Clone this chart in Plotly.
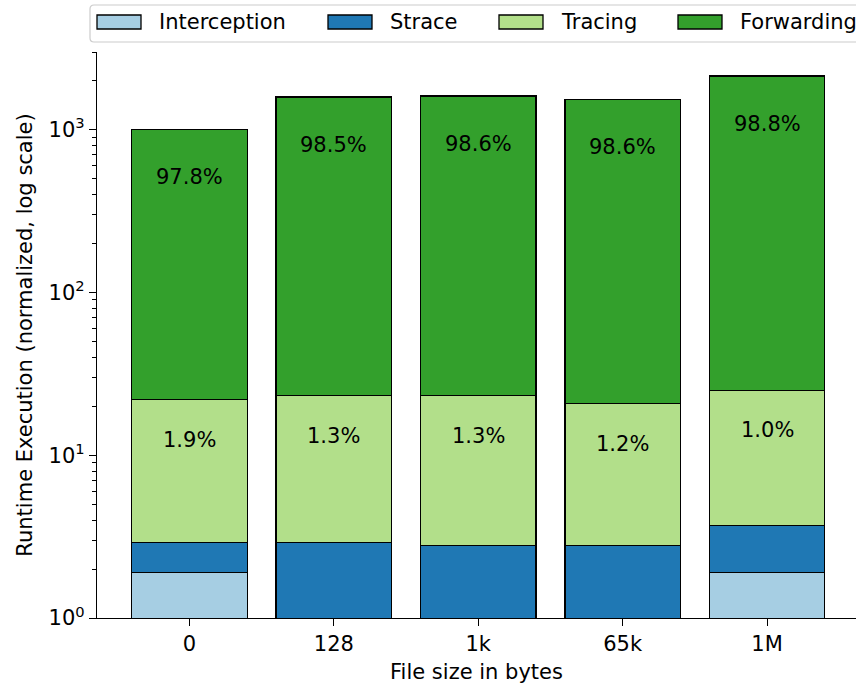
import math
import plotly.graph_objects as go

# file sizes on the x axis
sizes = ["0", "128", "1k", "65k", "1M"]

# runtime segments (normalized), stacked bottom -> top
interception = [1.9, 0.0, 0.0, 0.0, 1.9]
strace = [1.0, 2.9, 2.8, 2.8, 1.8]
tracing = [19.1, 20.3, 20.5, 17.9, 21.2]
forwarding = [985, 1565, 1584, 1519, 2109]

# percentage labels as printed on the bars
tracing_pct = ["1.9%", "1.3%", "1.3%", "1.2%", "1.0%"]
forwarding_pct = ["97.8%", "98.5%", "98.6%", "98.6%", "98.8%"]

series = [
    ("Interception", interception, "#a6cee3"),
    ("Strace", strace, "#1f78b4"),
    ("Tracing", tracing, "#b2df8a"),
    ("Forwarding", forwarding, "#33a02c"),
]

W, H = 856, 688
L, R, T, B = 97, 0, 52, 70
FONT = "DejaVu Sans"
FS = 21

fig = go.Figure()
for name, vals, col in series:
    fig.add_trace(go.Bar(
        x=list(range(len(sizes))), y=vals, name=name,
        marker=dict(color=col, line=dict(color="black", width=1.3)),
        showlegend=False,
    ))

# labels at the linear middle of each labelled segment
for i in range(len(sizes)):
    low = interception[i] + strace[i]
    y_tr = low + tracing[i] / 2
    y_fw = low + tracing[i] + forwarding[i] / 2
    for yv, txt in [(y_tr, tracing_pct[i]), (y_fw, forwarding_pct[i])]:
        fig.add_annotation(x=i, y=math.log10(yv), text=txt, showarrow=False,
                           font=dict(family=FONT, size=FS, color="black"),
                           xanchor="center", yanchor="middle")

# hand-drawn legend (matplotlib style, wide patches)
pw = W - L - R
ph = H - T - B
def px(x):
    return (x - L) / pw
def py(y):
    return 1 - (y - T) / ph

x0, x1, y0, y1, r = 90, 870, 5, 42, 4
path = (f"M {px(x0 + r)},{py(y0)} L {px(x1 - r)},{py(y0)} "
        f"Q {px(x1)},{py(y0)} {px(x1)},{py(y0 + r)} L {px(x1)},{py(y1 - r)} "
        f"Q {px(x1)},{py(y1)} {px(x1 - r)},{py(y1)} L {px(x0 + r)},{py(y1)} "
        f"Q {px(x0)},{py(y1)} {px(x0)},{py(y1 - r)} L {px(x0)},{py(y0 + r)} "
        f"Q {px(x0)},{py(y0)} {px(x0 + r)},{py(y0)} Z")
fig.add_shape(type="path", path=path, xref="paper", yref="paper",
              fillcolor="rgba(255,255,255,0.8)", line=dict(color="#cccccc", width=1.2))
patch_x = [97, 328, 499, 678]
for (name, vals, col), xp in zip(series, patch_x):
    fig.add_shape(type="rect", xref="paper", yref="paper",
                  x0=px(xp), x1=px(xp + 44), y0=py(15), y1=py(29),
                  fillcolor=col, line=dict(color="black", width=1.3))
    fig.add_annotation(xref="paper", yref="paper", x=px(xp + 60), y=py(22),
                       text=name, showarrow=False, xanchor="left", yanchor="middle",
                       font=dict(family=FONT, size=FS, color="black"))

minor_vals = [m * 10 ** e for e in range(4) for m in range(2, 10)]

fig.update_layout(
    width=W, height=H,
    margin=dict(l=L, r=R, t=T, b=B, autoexpand=False),
    barmode="stack", bargap=0.2,
    plot_bgcolor="white", paper_bgcolor="white",
    font=dict(family=FONT, size=FS, color="black"),
)
fig.update_xaxes(
    range=[-0.64, 4.616], automargin=False,
    tickmode="array", tickvals=list(range(len(sizes))), ticktext=sizes,
    tickfont=dict(size=FS),
    showline=True, linecolor="black", linewidth=1.3,
    ticks="outside", ticklen=7, tickwidth=1.2, tickcolor="black",
    showgrid=False, zeroline=False,
    title=dict(text="File size in bytes", standoff=8, font=dict(size=FS)),
)
fig.update_yaxes(
    type="log", range=[0, math.log10(3000)], automargin=False,
    showline=True, linecolor="black", linewidth=1.3,
    tickmode="array", tickvals=[1, 10, 100, 1000],
    ticktext=["10<sup>0</sup>", "10<sup>1</sup>", "10<sup>2</sup>", "10<sup>3</sup>"],
    tickfont=dict(size=FS),
    ticks="outside", ticklen=7, tickwidth=1.2, tickcolor="black",
    minor=dict(tickmode="array", tickvals=minor_vals, ticks="outside",
               ticklen=4, tickwidth=1, tickcolor="black", showgrid=False),
    showgrid=False, zeroline=False,
    title=dict(text="Runtime Execution (normalized, log scale)", standoff=10,
               font=dict(size=FS)),
)

fig.write_html("out.html", config={"displayModeBar": False},
               post_script="document.body.style.margin='0px';")
